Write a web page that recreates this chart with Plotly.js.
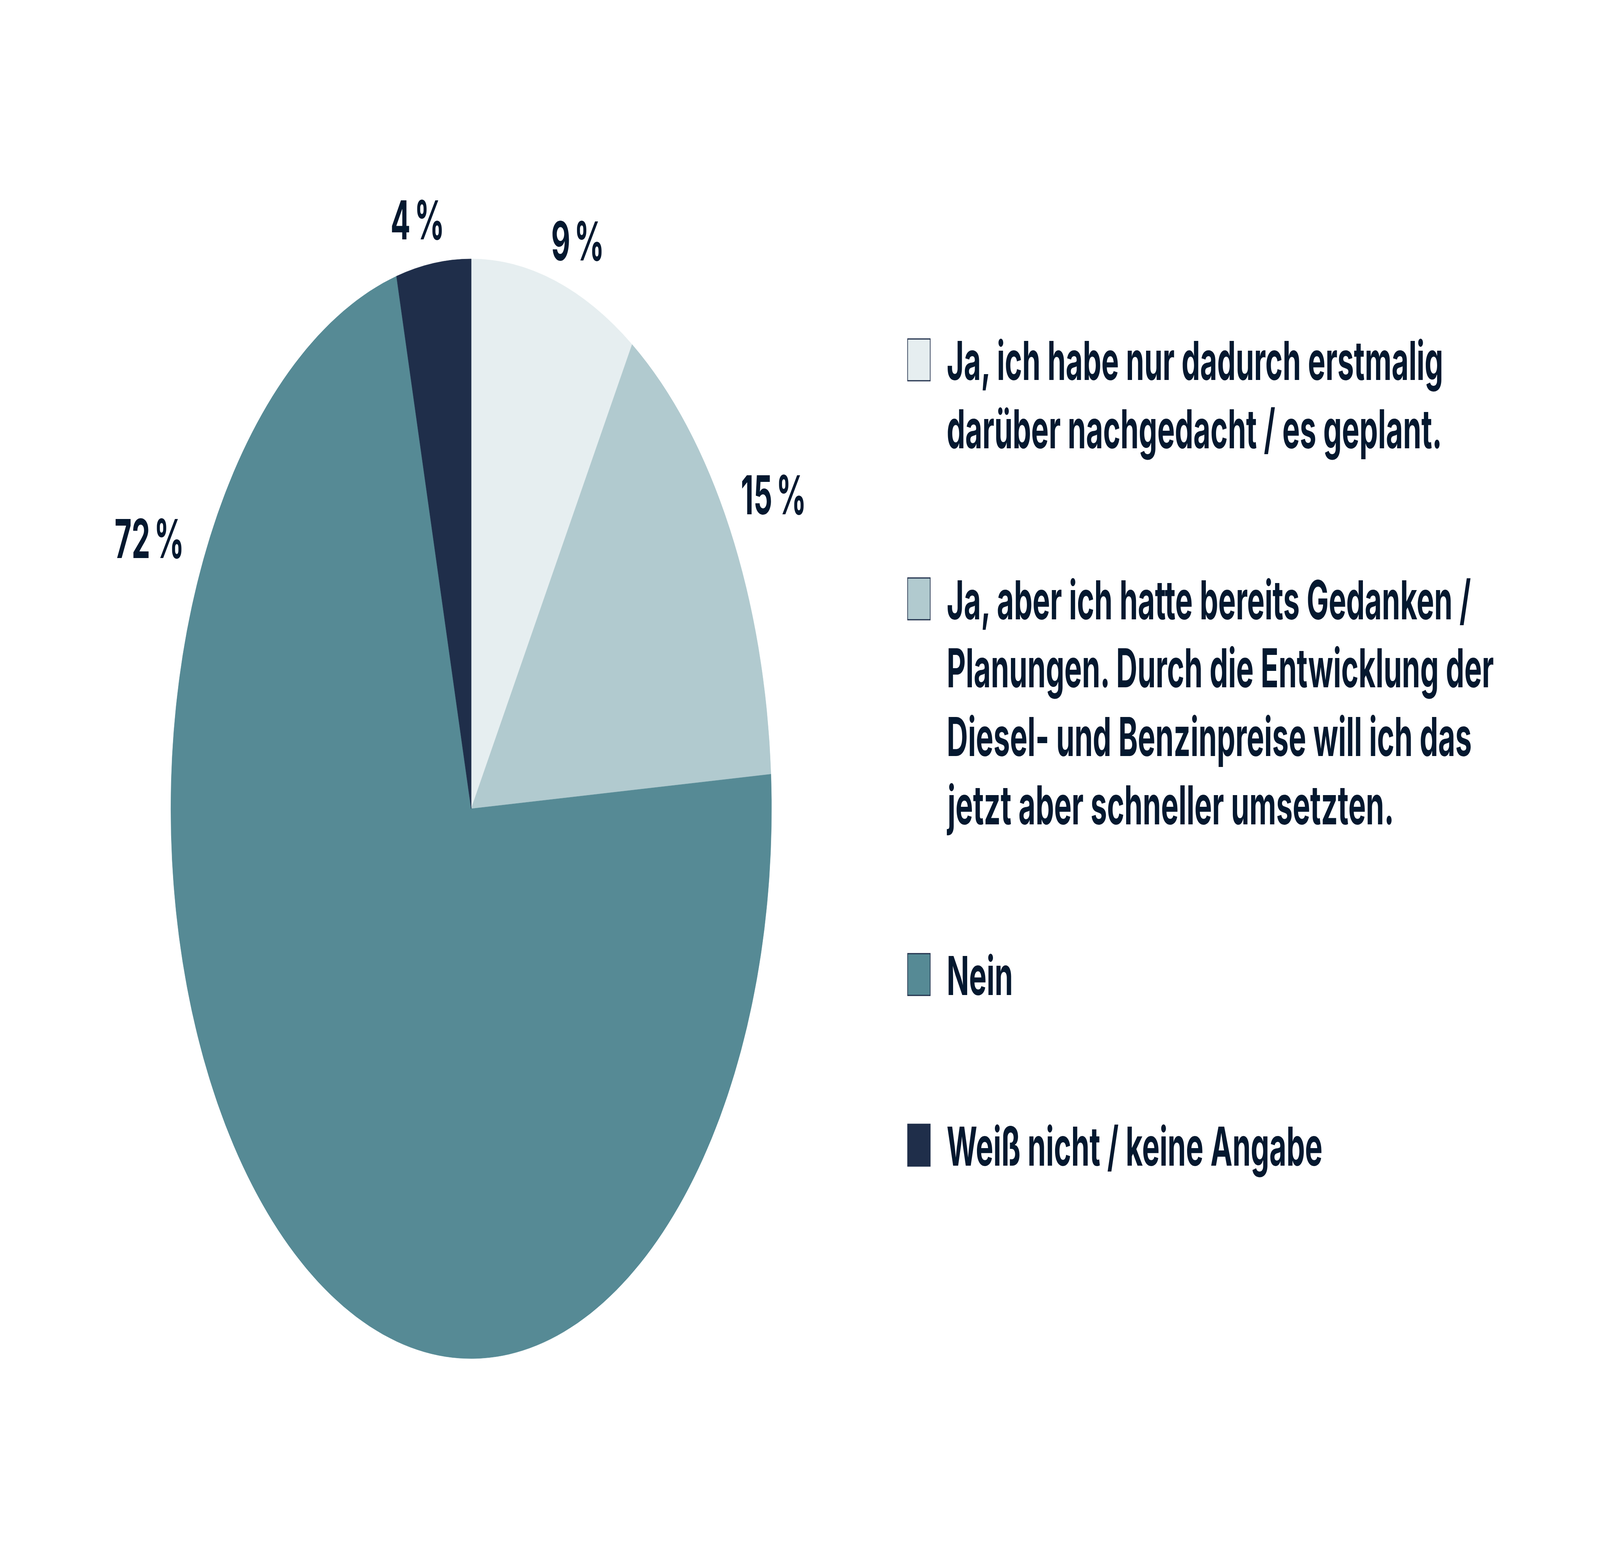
<!DOCTYPE html>
<html>
<head>
<meta charset="utf-8">
<script src="https://cdn.plot.ly/plotly-3.0.1.min.js"></script>
<style>
  html, body { margin: 0; padding: 0; background: #fff; overflow: hidden; }
  #chart { transform-origin: 0 0; }
</style>
</head>
<body>
<div id="chart"></div>
<script>
const answers = [
  "Ja, ich habe nur dadurch erstmalig<br>darüber nachgedacht / es geplant.",
  "Ja, aber ich hatte bereits Gedanken /<br>Planungen. Durch die Entwicklung der<br>Diesel- und Benzinpreise will ich das<br>jetzt aber schneller umsetzten.",
  "Nein",
  "Weiß nicht / keine Angabe"
];
const shares = [9, 15, 72, 4];
const sliceColors = ["#e6eef0", "#b1cacf", "#568a95", "#1f2e4a"];

const W = 7501, H = 4005;
const ink = "#04182f";
const family = "Inter, 'Open Sans', sans-serif";
const px = x => x / W;
const py = y => 1 - y / H;

// the browser may give a narrower window than asked; squeeze the drawing to fit it
const chartDiv = document.getElementById("chart");
const sx = Math.min(1, window.innerWidth / W), sy = Math.min(1, window.innerHeight / H);
if (sx < 1 || sy < 1) chartDiv.style.transform = `scale(${sx}, ${sy})`;

// pie geometry (pixels)
const cx = 2209, cy = 2071, R = 1408;

// percent labels, placed like the original (the 72 % label sits up-left)
const labelSpots = [[2708, 617], [3626, 1266], [700, 1378], [1957, 563]];

const annotations = shares.map((v, i) => ({
  x: px(labelSpots[i][0]), y: py(labelSpots[i][1]),
  xref: "paper", yref: "paper", showarrow: false,
  xanchor: "center", yanchor: "middle",
  text: v + "<span style='font-size:80px'> </span>%",
  font: { family, size: 138, color: ink, weight: 700 },
}));

// hand-built legend: squares + wrapped text with the original spacing
const shapes = [];
const lineStep = 175, itemGap = 437, textX = 4436;
let baseline = 973;
answers.forEach((label, i) => {
  shapes.push({
    type: "rect", xref: "paper", yref: "paper",
    x0: px(4255), x1: px(4361), y0: py(baseline + 2), y1: py(baseline - 105),
    fillcolor: sliceColors[i], line: { color: "#1f2e4a", width: 3 },
  });
  const lines = label.split("<br>");
  lines.forEach((ln, j) => {
    annotations.push({
      x: px(textX), y: py(baseline + j * lineStep - 50),
      xref: "paper", yref: "paper", showarrow: false,
      xanchor: "left", yanchor: "middle",
      text: ln,
      font: { family, size: 138, color: ink, weight: 700 },
    });
  });
  baseline += (lines.length - 1) * lineStep + itemGap;
});

Plotly.newPlot(chartDiv, [{
  type: "pie",
  labels: answers,
  values: shares,
  sort: false,
  direction: "clockwise",
  rotation: 0,
  textinfo: "none",
  hoverinfo: "skip",
  marker: { colors: sliceColors, line: { color: sliceColors, width: 1 } },
  domain: { x: [px(cx - R), px(cx + R)], y: [py(cy + R), py(cy - R)] },
}], {
  width: W, height: H,
  margin: { l: 0, r: 0, t: 0, b: 0 },
  paper_bgcolor: "#fff",
  showlegend: false,
  annotations, shapes,
}, { displayModeBar: false, staticPlot: true });
</script>
</body>
</html>
